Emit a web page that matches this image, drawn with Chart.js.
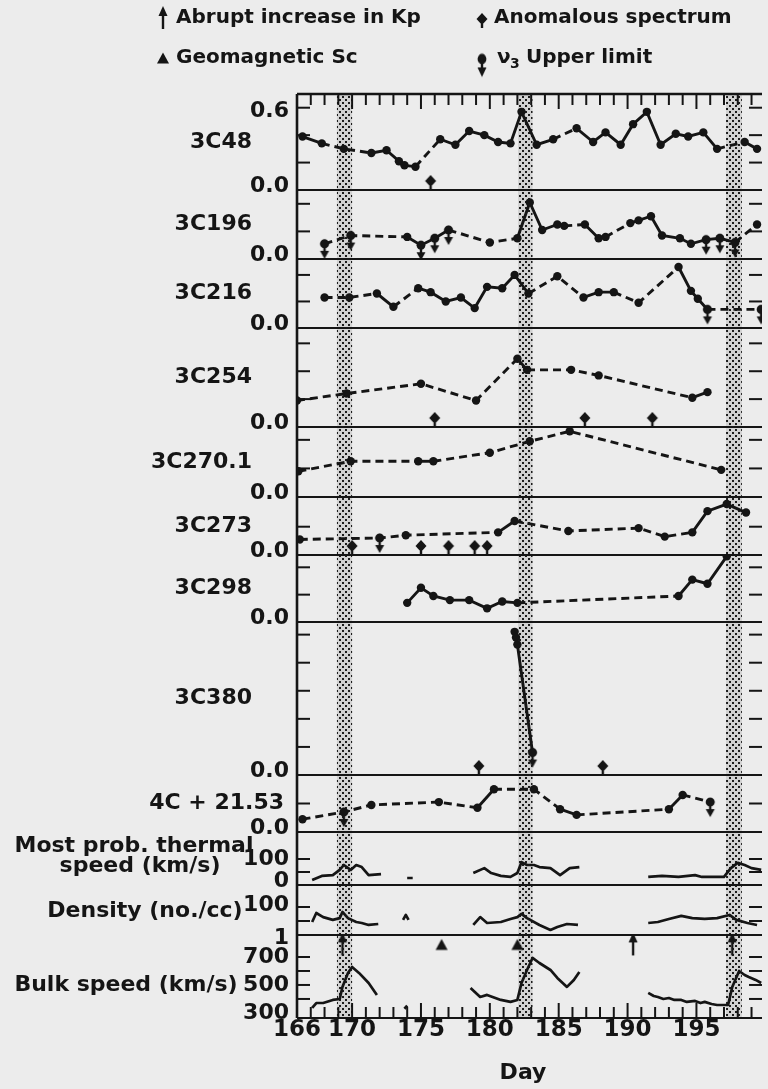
<!DOCTYPE html>
<html>
<head>
<meta charset="utf-8">
<script src="https://cdn.jsdelivr.net/npm/chart.js@4.4.0/dist/chart.umd.min.js"></script>
<style>
  html, body { margin: 0; padding: 0; background: #ececec; }
  #wrap { position: relative; width: 768px; height: 1089px; }
  canvas { display: block; }
</style>
</head>
<body>
<div id="wrap"><canvas id="c" width="768" height="1089"></canvas></div>
<script>
// ---------- time axis ----------
const dayLabels = [166, 170, 175, 180, 185, 190, 195];
const bandStart = [168.9, 182.05, 197.15];   // shaded disturbed intervals
const bandEnd   = [170.0, 183.1, 198.3];

// ---------- scintillation index per source ----------
const c48Day   = [166.4,167.8,169.4,171.4,172.5,173.4,173.8,174.6,176.4,177.5,178.5,179.6,180.6,181.5,182.3,183.4,184.6,186.3,187.5,188.4,189.5,190.4,191.4,192.4,193.5,194.4,195.5,196.5,198.5,199.4];
const c48Flux  = [0.39,0.34,0.30,0.27,0.29,0.21,0.18,0.17,0.37,0.33,0.43,0.40,0.35,0.34,0.57,0.33,0.37,0.45,0.35,0.42,0.33,0.48,0.57,0.33,0.41,0.39,0.42,0.30,0.35,0.30];
const c48Anom  = [175.7];

const c196Day   = [168.0,169.9,174.0,175.0,176.0,177.0,180.0,182.0,182.9,183.8,184.9,185.4,186.9,187.9,188.4,190.2,190.8,191.7,192.5,193.8,194.6,195.7,196.7,197.8,199.4];
const c196Flux  = [0.11,0.17,0.16,0.10,0.15,0.21,0.12,0.15,0.41,0.21,0.25,0.24,0.25,0.15,0.16,0.26,0.28,0.31,0.17,0.15,0.11,0.14,0.15,0.12,0.25];
const c196Limit = [1,1,0,1,1,1,0,0,0,0,0,0,0,0,0,0,0,0,0,0,0,1,1,1,0];

const c216Day   = [168.0,169.8,171.8,173.0,174.8,175.7,176.8,177.9,178.9,179.8,180.9,181.8,182.8,184.9,186.8,187.9,189.0,190.8,193.7,194.6,195.1,195.8,199.7];
const c216Flux  = [0.23,0.23,0.26,0.16,0.30,0.27,0.20,0.23,0.15,0.31,0.30,0.40,0.26,0.39,0.23,0.27,0.27,0.19,0.46,0.28,0.22,0.14,0.14];
const c216Limit = [0,0,0,0,0,0,0,0,0,0,0,0,0,0,0,0,0,0,0,0,0,1,1];

const c254Day   = [166.0,169.6,175.0,179.0,182.0,182.7,185.9,187.9,194.7,195.8];
const c254Flux  = [0.19,0.24,0.31,0.19,0.49,0.41,0.41,0.37,0.21,0.25];
const c254Anom  = [176.0,186.9,191.8];

const c2701Day  = [166.1,169.9,174.8,175.9,180.0,182.9,185.8,196.8];
const c2701Flux = [0.18,0.25,0.25,0.25,0.31,0.39,0.46,0.19];

const c273Day   = [166.2,172.0,173.9,180.6,181.8,185.7,190.8,192.7,194.7,195.8,197.2,198.6];
const c273Flux  = [0.11,0.12,0.14,0.16,0.24,0.17,0.19,0.13,0.16,0.31,0.36,0.30];
const c273Limit = [0,1,0,0,0,0,0,0,0,0,0,0];
const c273Anom  = [170.0,175.0,177.0,178.9,179.8];

const c298Day   = [174.0,175.0,175.9,177.1,178.5,179.8,180.9,182.0,193.7,194.7,195.8,197.2];
const c298Flux  = [0.14,0.25,0.19,0.16,0.16,0.10,0.15,0.14,0.19,0.31,0.28,0.48];

const c380Day   = [181.8,181.9,182.0,183.1];
const c380Flux  = [1.02,0.98,0.93,0.16];
const c380Limit = [0,0,0,1];
const c380Anom  = [179.2,188.2];

const c2153Day   = [166.4,169.4,171.4,176.3,179.1,180.3,183.2,185.1,186.3,193.0,194.0,196.0];
const c2153Flux  = [0.09,0.14,0.19,0.21,0.17,0.30,0.30,0.16,0.12,0.16,0.26,0.21];
const c2153Limit = [0,1,0,0,0,0,0,0,0,0,0,1];

// ---------- solar wind (null = data gap) ----------
const thermDay   = [167.1,167.8,168.6,169.1,169.4,169.9,170.3,170.7,171.2,172.1,173.0,174.0,174.4,176.0,178.8,179.6,180.1,180.8,181.5,182.0,182.3,182.7,183.2,183.6,184.4,185.1,185.8,186.5,189.0,191.5,192.5,193.7,194.9,195.4,196.3,197.0,197.5,198.0,198.5,199.0,199.7];
const thermSpeed = [19,35,38,58,77,58,77,69,38,42,null,27,27,null,46,65,46,35,31,46,88,77,77,69,65,38,65,69,null,31,35,31,38,31,31,31,65,85,77,65,58];

const densDay   = [167.1,167.4,167.9,168.6,169.1,169.3,169.7,170.3,170.7,171.2,171.9,172.8,173.7,173.9,174.1,176.0,178.8,179.3,179.8,180.8,181.5,182.0,182.3,182.7,183.6,184.4,184.9,185.6,186.4,189.0,191.5,192.2,193.0,193.9,194.7,195.6,196.5,197.4,197.9,198.7,199.4];
const densValue = [8.5,37,19,12,16,44,16,8.5,7.2,5.2,6.1,null,12,27,12,null,5.2,19,7.2,8.5,14,19,32,16,5.2,2.3,3.7,6.1,5.2,null,7.2,8.5,14,23,16,14,16,27,12,7.2,5.2];

const bulkDay   = [167.1,167.4,167.9,168.6,169.1,169.3,169.7,170.0,170.5,171.2,171.8,172.8,173.8,174.0,176.0,178.6,179.3,179.8,180.8,181.5,182.0,182.3,182.7,183.1,183.6,184.4,184.9,185.6,186.1,186.5,189.0,191.5,191.9,192.2,192.6,193.0,193.4,193.9,194.3,194.9,195.3,195.6,196.1,196.5,197.0,197.3,197.6,198.1,198.5,198.8,199.3,199.7];
const bulkSpeed = [336,371,371,393,400,486,586,629,586,514,429,null,330,352,null,479,414,429,393,379,393,514,607,693,657,607,550,486,536,593,null,443,421,414,400,407,393,393,379,386,371,379,364,357,357,357,486,600,571,557,536,514];

// ---------- geomagnetic events ----------
const kpDays = [169.3, 190.4, 197.6];
const scDays = [176.5, 182.0];
const eventLevel = 790;   // km/s, drawn near the top of the bulk-speed panel

// ---------- axis ticks ----------
const ticks48 = [0.2,0.4,0.6], ticks196 = [0.2,0.4], ticks216 = [0.2,0.4], ticks254 = [0.2,0.4,0.6];
const ticks2701 = [0.2,0.4], ticks273 = [0.2], ticks298 = [0.2,0.4], ticks380 = [0.2,0.4,0.6,0.8,1.0];
const ticks2153 = [0.2], ticksTherm = [50,100], ticksDens = [10,100], ticksBulk = [400,500,600,700];

// ---------- panels, top to bottom ----------
const panels = [
  { id:'p48',   name:'3C48',       min:0, max:0.70, h:96,  ticks:ticks48,   labels:[[0.6,'0.6',4],[0,'0.0',-4]] },
  { id:'p196',  name:'3C196',      min:0, max:0.50, h:69,  ticks:ticks196,  labels:[[0,'0.0',-4]] },
  { id:'p216',  name:'3C216',      min:0, max:0.52, h:69,  ticks:ticks216,  labels:[[0,'0.0',-4]] },
  { id:'p254',  name:'3C254',      min:0, max:0.71, h:99,  ticks:ticks254,  labels:[[0,'0.0',-4]] },
  { id:'p2701', name:'3C270.1',    min:0, max:0.49, h:70,  ticks:ticks2701, labels:[[0,'0.0',-4]] },
  { id:'p273',  name:'3C273',      min:0, max:0.41, h:58,  ticks:ticks273,  labels:[[0,'0.0',-4]] },
  { id:'p298',  name:'3C298',      min:0, max:0.49, h:67,  ticks:ticks298,  labels:[[0,'0.0',-4]] },
  { id:'p380',  name:'3C380',      min:0, max:1.09, h:153, ticks:ticks380,  labels:[[0,'0.0',-4]] },
  { id:'p2153', name:'4C + 21.53', min:0, max:0.40, h:57,  ticks:ticks2153, labels:[[0,'0.0',-4]], nameX:284 },
  { id:'pTh',   name:null, min:0,   max:204,  h:53, ticks:ticksTherm, labels:[[100,'100',0],[0,'0',-4]] },
  { id:'pDen',  name:null, min:1,   max:3700, h:50, ticks:ticksDens,  labels:[[100,'100',-2],[1,'1',3]], log:true },
  { id:'pBulk', name:null, min:264, max:857,  h:83, ticks:ticksBulk,  labels:[[700,'700',0],[500,'500',0],[300,'300',0]] }
];

const INK = '#151515';
const FONT = '"DejaVu Sans", "Liberation Sans", sans-serif';

// ---------- glyphs ----------
function glyph(w, h, paint) {
  const c = document.createElement('canvas');
  c.width = w; c.height = h;
  const g = c.getContext('2d');
  g.fillStyle = INK; g.strokeStyle = INK;
  paint(g);
  return c;
}
// dot with a downward arrow: upper limit (dot at the centre)
const limitGlyph = glyph(12, 40, g => {
  g.beginPath(); g.arc(6, 20, 4.4, 0, Math.PI * 2); g.fill();
  g.lineWidth = 2.4; g.beginPath(); g.moveTo(6, 20); g.lineTo(6, 29); g.stroke();
  g.beginPath(); g.moveTo(1.5, 27); g.lineTo(10.5, 27); g.lineTo(6, 35); g.closePath(); g.fill();
});
// diamond on a short stem: anomalous spectrum (stem foot at the centre)
const anomGlyph = glyph(14, 32, g => {
  g.beginPath(); g.moveTo(7, 1); g.lineTo(12.5, 7); g.lineTo(7, 13); g.lineTo(1.5, 7); g.closePath(); g.fill();
  g.lineWidth = 2.4; g.beginPath(); g.moveTo(7, 12); g.lineTo(7, 16); g.stroke();
});
// upward arrow: abrupt Kp increase
const kpGlyph = glyph(12, 24, g => {
  g.lineWidth = 2.4; g.beginPath(); g.moveTo(6, 23); g.lineTo(6, 7); g.stroke();
  g.beginPath(); g.moveTo(1.5, 10); g.lineTo(10.5, 10); g.lineTo(6, 0); g.closePath(); g.fill();
});
// filled triangle: geomagnetic sudden commencement
const scGlyph = glyph(14, 14, g => {
  g.beginPath(); g.moveTo(7, 1.5); g.lineTo(13, 12.5); g.lineTo(1, 12.5); g.closePath(); g.fill();
});
// stippled fill for disturbed intervals
const stipple = glyph(6, 6, g => {
  g.fillStyle = '#d2d2d2'; g.fillRect(0, 0, 6, 6);
  g.fillStyle = '#1c1c1c'; g.fillRect(0, 0, 2, 2); g.fillRect(3, 3, 2, 2);
});

// ---------- datasets ----------
const pts = (days, vals) => days.map((d, i) => ({ x: d, y: vals[i] }));
const dashGap = ctx => (ctx.p1.parsed.x - ctx.p0.parsed.x > 1.45 ? [8, 5] : undefined);

function fluxSeries(yId, days, flux) {
  return {
    data: pts(days, flux), yAxisID: yId,
    borderColor: INK, backgroundColor: INK, borderWidth: 2.9, borderCapStyle: 'butt',
    pointRadius: 4.2, pointBackgroundColor: INK, pointBorderWidth: 0, tension: 0,
    segment: { borderDash: dashGap }
  };
}
function marks(yId, data, style) {
  return { data, yAxisID: yId, showLine: false, pointStyle: style, pointRadius: 6, borderWidth: 0 };
}
function limitMarks(yId, days, flux, flags) {
  const data = [];
  days.forEach((d, i) => { if (flags[i]) data.push({ x: d, y: flux[i] }); });
  return marks(yId, data, limitGlyph);
}
const anomalyMarks = (yId, days) => marks(yId, days.map(d => ({ x: d, y: 0 })), anomGlyph);
function windSeries(yId, days, vals) {
  return {
    data: pts(days, vals), yAxisID: yId, spanGaps: false,
    borderColor: INK, borderWidth: 2.7, pointRadius: 0, tension: 0, borderJoinStyle: 'round'
  };
}

const datasets = [
  fluxSeries('p48', c48Day, c48Flux), anomalyMarks('p48', c48Anom),
  fluxSeries('p196', c196Day, c196Flux), limitMarks('p196', c196Day, c196Flux, c196Limit),
  fluxSeries('p216', c216Day, c216Flux), limitMarks('p216', c216Day, c216Flux, c216Limit),
  fluxSeries('p254', c254Day, c254Flux), anomalyMarks('p254', c254Anom),
  fluxSeries('p2701', c2701Day, c2701Flux),
  fluxSeries('p273', c273Day, c273Flux), limitMarks('p273', c273Day, c273Flux, c273Limit), anomalyMarks('p273', c273Anom),
  fluxSeries('p298', c298Day, c298Flux),
  fluxSeries('p380', c380Day, c380Flux), limitMarks('p380', c380Day, c380Flux, c380Limit), anomalyMarks('p380', c380Anom),
  fluxSeries('p2153', c2153Day, c2153Flux), limitMarks('p2153', c2153Day, c2153Flux, c2153Limit),
  windSeries('pTh', thermDay, thermSpeed),
  windSeries('pDen', densDay, densValue),
  windSeries('pBulk', bulkDay, bulkSpeed),
  marks('pBulk', kpDays.map(d => ({ x: d, y: eventLevel })), kpGlyph),
  marks('pBulk', scDays.map(d => ({ x: d, y: eventLevel })), scGlyph)
];

// ---------- scales ----------
const scales = {
  x: { type: 'linear', min: 166, max: 199.76, display: false }
};
panels.forEach((p, i) => {
  scales[p.id] = {
    type: p.log ? 'logarithmic' : 'linear',
    position: 'left', stack: 'panels', stackWeight: p.h, weight: 100 - i,
    min: p.min, max: p.max,
    grid: { display: false, drawTicks: false },
    border: { display: false },
    ticks: { display: false },
    afterBuildTicks: s => { s.ticks = p.ticks.map(v => ({ value: v })); }
  };
});

// ---------- frame, stippled bands, ticks and lettering ----------
function line(ctx, x1, y1, x2, y2) {
  ctx.beginPath(); ctx.moveTo(x1, y1); ctx.lineTo(x2, y2); ctx.stroke();
}
const paper = {
  id: 'paper',
  beforeDraw(chart) {
    const { ctx, width, height } = chart;
    ctx.save(); ctx.fillStyle = '#ececec'; ctx.fillRect(0, 0, width, height); ctx.restore();
  },
  beforeDatasetsDraw(chart) {
    const { ctx, chartArea: a, scales: sc } = chart;
    const xs = sc.x;
    ctx.save();
    ctx.fillStyle = ctx.createPattern(stipple, 'repeat');
    bandStart.forEach((s, i) => {
      const l = xs.getPixelForValue(s), r = xs.getPixelForValue(bandEnd[i]);
      ctx.fillRect(l, a.top, r - l, a.bottom - a.top);
    });
    ctx.strokeStyle = INK;
    ctx.lineWidth = 2.6;
    line(ctx, a.left, a.top, a.left, a.bottom);
    line(ctx, a.left, a.top, a.right, a.top);
    ctx.lineWidth = 2.2;
    panels.forEach(p => { const y = sc[p.id].bottom; line(ctx, a.left, y, a.right, y); });
    // day ticks, pointing into the plot at top and bottom
    ctx.lineWidth = 2;
    for (let d = 166; d <= 199; d++) {
      const x = xs.getPixelForValue(d);
      const len = d % 5 === 0 ? 15 : 11;
      line(ctx, x, a.top, x, a.top + len);
      line(ctx, x, a.bottom, x, a.bottom - len);
    }
    // value ticks on both sides of every panel
    panels.forEach(p => {
      const s = sc[p.id];
      s.ticks.forEach(t => {
        const y = s.getPixelForValue(t.value);
        line(ctx, a.left, y, a.left + 13, y);
        line(ctx, a.right, y, a.right - 13, y);
      });
    });
    ctx.restore();
  },
  afterDraw(chart) {
    const { ctx, chartArea: a, scales: sc } = chart;
    const xs = sc.x;
    ctx.save();
    ctx.fillStyle = INK;
    ctx.textBaseline = 'middle';
    ctx.font = 'bold 22px ' + FONT;
    panels.forEach(p => {
      const s = sc[p.id];
      ctx.textAlign = 'right';
      if (p.name) ctx.fillText(p.name, p.nameX || 252, (s.top + s.bottom) / 2);
      p.labels.forEach(([v, t, dy]) => ctx.fillText(t, 289, s.getPixelForValue(v) + dy));
    });
    // solar wind panel titles
    ctx.textAlign = 'center';
    ctx.fillText('Most prob. thermal', 134, 846);
    ctx.fillText('speed (km/s)', 140, 866);
    ctx.fillText('Density (no./cc)', 145, 911);
    ctx.fillText('Bulk speed (km/s)', 126, 985);
    // day axis
    ctx.font = 'bold 23px ' + FONT;
    dayLabels.forEach(d => ctx.fillText(String(d), xs.getPixelForValue(d), a.bottom + 12));
    ctx.font = 'bold 22px ' + FONT;
    ctx.fillText('Day', 523, 1073);
    // key
    ctx.textAlign = 'left';
    ctx.font = 'bold 20px ' + FONT;
    ctx.drawImage(kpGlyph, 157, 6);
    ctx.fillText('Abrupt increase in Kp', 176, 18);
    ctx.drawImage(scGlyph, 156, 51);
    ctx.fillText('Geomagnetic Sc', 176, 58);
    ctx.drawImage(anomGlyph, 475, 12);
    ctx.fillText('Anomalous spectrum', 494, 18);
    ctx.drawImage(limitGlyph, 476, 35, 12, 48);
    ctx.fillText('\u03bd', 497, 58);
    ctx.font = 'bold 14px ' + FONT;
    ctx.fillText('3', 510, 64);
    ctx.font = 'bold 20px ' + FONT;
    ctx.fillText('Upper limit', 526, 58);
    ctx.restore();
  }
};

new Chart(document.getElementById('c'), {
  type: 'line',
  data: { datasets },
  options: {
    responsive: false,
    animation: false,
    devicePixelRatio: 1,
    layout: { padding: { left: 297, top: 94, right: 0, bottom: 71 } },
    scales,
    plugins: { legend: { display: false }, tooltip: { enabled: false } }
  },
  plugins: [paper]
});
</script>
</body>
</html>
